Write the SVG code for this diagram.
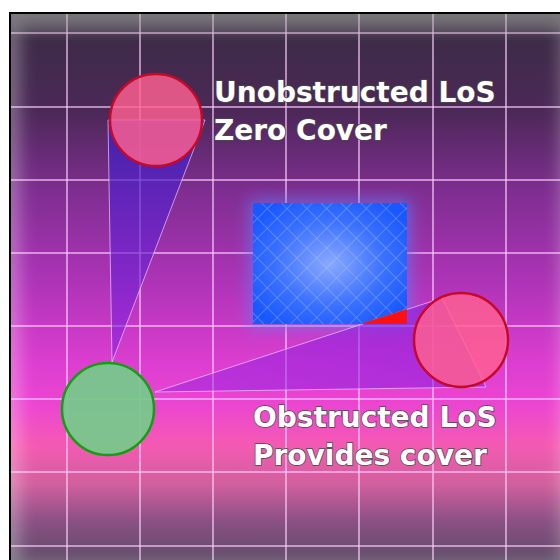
<svg xmlns="http://www.w3.org/2000/svg" width="560" height="560" viewBox="0 0 560 560">
<defs>
<linearGradient id="bg" x1="0" y1="13" x2="0" y2="560" gradientUnits="userSpaceOnUse">
<stop offset="0" stop-color="#4a4650"/>
<stop offset="0.04" stop-color="#3c2c46"/>
<stop offset="0.18" stop-color="#4c2858"/>
<stop offset="0.33" stop-color="#802e92"/>
<stop offset="0.5" stop-color="#b034b8"/>
<stop offset="0.64" stop-color="#dc3ed0"/>
<stop offset="0.72" stop-color="#ec46d0"/>
<stop offset="0.79" stop-color="#f45ab2"/>
<stop offset="0.86" stop-color="#d2609e"/>
<stop offset="0.93" stop-color="#8a5084"/>
<stop offset="1" stop-color="#5e4c66"/>
</linearGradient>
<radialGradient id="blueGlow" cx="0.5" cy="0.5" r="0.6">
<stop offset="0" stop-color="#8aa8ff"/>
<stop offset="0.6" stop-color="#3a70ff"/>
<stop offset="1" stop-color="#1a58ff"/>
</radialGradient>
<pattern id="hatch" width="14" height="14" patternUnits="userSpaceOnUse" patternTransform="rotate(45)">
<path d="M0 0H14M0 0V14" stroke="#c8d8ff" stroke-width="1" opacity="0.55"/>
</pattern>
<linearGradient id="losTop" x1="0" y1="120" x2="0" y2="362" gradientUnits="userSpaceOnUse">
<stop offset="0" stop-color="#3a20c0" stop-opacity="0.75"/>
<stop offset="1" stop-color="#8a20e0" stop-opacity="0.55"/>
</linearGradient>
<linearGradient id="losBot" x1="155" y1="0" x2="486" y2="0" gradientUnits="userSpaceOnUse">
<stop offset="0" stop-color="#9020e0" stop-opacity="0.45"/>
<stop offset="1" stop-color="#8a20e0" stop-opacity="0.6"/>
</linearGradient>
<filter id="blur8" x="-20%" y="-20%" width="140%" height="140%"><feGaussianBlur stdDeviation="8"/></filter>
<filter id="blur4" x="-30%" y="-30%" width="160%" height="160%"><feGaussianBlur stdDeviation="4"/></filter>
<clipPath id="frame"><rect x="10" y="13" width="560" height="560"/></clipPath>
<style>
.grid line{stroke:#ffd0ff;stroke-width:2;opacity:0.6}
.los{stroke:#f0c8ff;stroke-width:1;stroke-opacity:0.7}
.lbl{font-family:"DejaVu Sans",sans-serif;font-weight:bold;font-size:28px;fill:#ffffff;stroke:#4a4a4a;stroke-width:1.5;paint-order:stroke}
.red{fill:#ff6090;fill-opacity:0.82;stroke:#c80828;stroke-width:2.5}
.green{fill:#78c88c;fill-opacity:0.95;stroke:#10a010;stroke-width:2.5}
</style>
</defs>
<rect width="560" height="560" fill="#ffffff"/>
<g clip-path="url(#frame)">
<rect x="10" y="13" width="560" height="560" fill="url(#bg)"/>
<g class="grid">
<line x1="67" y1="13" x2="67" y2="560"/>
<line x1="140" y1="13" x2="140" y2="560"/>
<line x1="213" y1="13" x2="213" y2="560"/>
<line x1="286" y1="13" x2="286" y2="560"/>
<line x1="359" y1="13" x2="359" y2="560"/>
<line x1="433" y1="13" x2="433" y2="560"/>
<line x1="506" y1="13" x2="506" y2="560"/>
<line x1="10" y1="33" x2="560" y2="33"/>
<line x1="10" y1="107" x2="560" y2="107"/>
<line x1="10" y1="180" x2="560" y2="180"/>
<line x1="10" y1="253" x2="560" y2="253"/>
<line x1="10" y1="326" x2="560" y2="326"/>
<line x1="10" y1="399" x2="560" y2="399"/>
<line x1="10" y1="472" x2="560" y2="472"/>
<line x1="10" y1="546" x2="560" y2="546"/>
</g>
<rect x="10" y="13" width="560" height="560" fill="none" stroke="#ffffff" stroke-opacity="0.3" stroke-width="20" filter="url(#blur8)"/>
<rect x="10" y="13" width="560" height="22" fill="#808080" opacity="0.35" filter="url(#blur4)"/>
</g>
<rect x="10" y="13" width="560" height="560" fill="none" stroke="#000" stroke-width="2"/>
<g id="obstacle">
<rect x="249" y="199" width="162" height="129" fill="#6080ff" opacity="0.6" filter="url(#blur8)"/>
<rect x="253" y="203" width="154" height="121" fill="url(#blueGlow)"/>
<rect x="253" y="203" width="154" height="121" fill="url(#hatch)"/>
</g>
<g id="connectors">
<polygon class="los" points="108,120 205,120 112,362" fill="url(#losTop)"/>
<polygon class="los" points="155,392 442,298 486,387" fill="url(#losBot)"/>
<polygon points="360,324 407,309 407,324" fill="#ff1010"/>
</g>
<g id="target-unobstructed"><circle class="red" cx="156" cy="120" r="46"/></g>
<g id="target-obstructed"><circle class="red" cx="461" cy="340" r="47"/></g>
<g id="shooter"><circle class="green" cx="108" cy="409" r="46"/></g>
<g id="label-top">
<text class="lbl" x="214" y="102">Unobstructed LoS</text>
<text class="lbl" x="214" y="140">Zero Cover</text>
</g>
<g id="label-bottom">
<text class="lbl" x="253" y="427">Obstructed LoS</text>
<text class="lbl" x="253" y="465">Provides cover</text>
</g>
</svg>
